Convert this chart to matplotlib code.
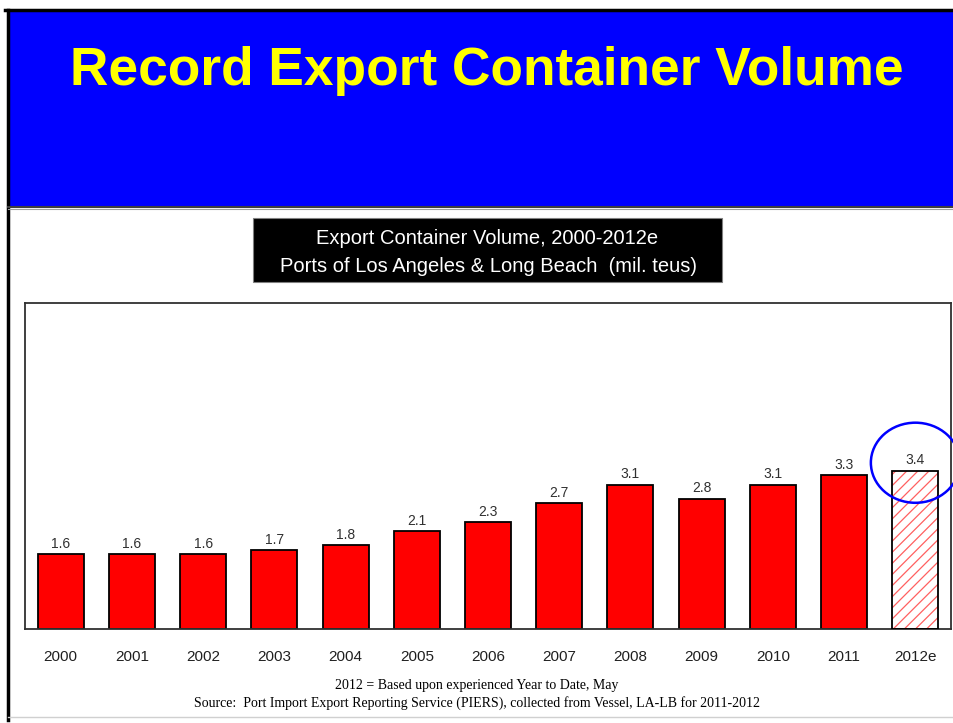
import matplotlib.pyplot as plt
import matplotlib.patches as mpatches

# export container volume, Ports of LA & Long Beach (mil. teus)
years = ['2000', '2001', '2002', '2003', '2004', '2005', '2006',
         '2007', '2008', '2009', '2010', '2011', '2012e']
volumes = [1.6, 1.6, 1.6, 1.7, 1.8, 2.1, 2.3, 2.7, 3.1, 2.8, 3.1, 3.3, 3.4]
estimated = [False] * 12 + [True]

title = 'Record Export Container Volume'
subtitle = ['Export Container Volume, 2000-2012e',
            'Ports of Los Angeles & Long Beach  (mil. teus)']
footnotes = ['2012 = Based upon experienced Year to Date, May',
             'Source:  Port Import Export Reporting Service (PIERS), '
             'collected from Vessel, LA-LB for 2011-2012']

W, H = 954, 723
plt.rcParams['hatch.linewidth'] = 0.9


def fx(x):
    return x / W


def fy(y):
    # pixel rows counted from the top
    return 1 - y / H


fig = plt.figure(figsize=(W / 100, H / 100), dpi=100)
fig.patch.set_facecolor('white')

# slide header
fig.patches.append(mpatches.Rectangle((fx(8), fy(206)), fx(W - 8), fy(11) - fy(206),
                                      transform=fig.transFigure, facecolor='#0000FF',
                                      edgecolor='none', zorder=0))
fig.add_artist(plt.Line2D([fx(5), 1], [fy(10), fy(10)], color='black', lw=2.5))
fig.add_artist(plt.Line2D([fx(8), fx(8)], [fy(10), fy(720)], color='black', lw=2.5))
fig.add_artist(plt.Line2D([fx(8), 1], [fy(206.5), fy(206.5)], color='#404040', lw=1.5))
fig.add_artist(plt.Line2D([fx(8), 1], [fy(209), fy(209)], color='#a0a0a0', lw=0.8))
fig.add_artist(plt.Line2D([fx(8), 1], [fy(717), fy(717)], color='#d0d0d0', lw=1))

fig.text(fx(487), fy(71), title, color='#FFFF00', fontsize=38.3, fontweight='bold',
         family=['Liberation Sans', 'DejaVu Sans'], ha='center', va='center')

# chart caption box
fig.patches.append(mpatches.Rectangle((fx(253), fy(282)), fx(722 - 253), fy(218) - fy(282),
                                      transform=fig.transFigure, facecolor='black',
                                      edgecolor='#808080', lw=0.8, zorder=1))
fig.text(fx(487), fy(239), subtitle[0], color='white', fontsize=14.5,
         family=['Liberation Sans', 'DejaVu Sans'], ha='center', va='center', zorder=2)
fig.text(fx(488), fy(266), subtitle[1], color='white', fontsize=14.5,
         family=['Liberation Sans', 'DejaVu Sans'], ha='center', va='center', zorder=2)

ax = fig.add_axes([fx(25), fy(629), fx(951 - 25), fy(303) - fy(629)])
x = list(range(len(years)))
for i, (v, est) in enumerate(zip(volumes, estimated)):
    if est:
        ax.bar(i, v, width=0.645, facecolor='white', edgecolor='#FF6060',
               hatch='///', lw=0, zorder=2)
        ax.bar(i, v, width=0.645, facecolor='none', edgecolor='black', lw=1.3, zorder=3)
    else:
        ax.bar(i, v, width=0.645, facecolor='#FF0000', edgecolor='black', lw=1.3, zorder=2)
    ax.text(i, v + 0.07, f'{v:.1f}', ha='center', va='bottom', fontsize=10,
            color='#303030', family=['Liberation Sans', 'DejaVu Sans'])

ax.set_xlim(-0.5, 12.5)
ax.set_ylim(0, 7.0)
ax.set_yticks([])
ax.set_xticks(x)
ax.set_xticklabels(years, family=['Liberation Sans Narrow', 'Liberation Sans', 'DejaVu Sans'],
                   fontsize=11, color='#202020')
ax.tick_params(axis='x', length=0, pad=15)
for side in ax.spines.values():
    side.set_color('#303030')
    side.set_linewidth(1.3)

# highlight the 2012 estimate
ax.add_patch(mpatches.Ellipse((12, 3.57), 1.25, 1.72, facecolor='none',
                              edgecolor='#0000FF', lw=1.8, clip_on=False, zorder=4))

fig.text(fx(477), fy(686), footnotes[0], fontsize=10, ha='center', va='center',
         family=['Liberation Serif', 'DejaVu Serif'], color='black')
fig.text(fx(477), fy(703), footnotes[1], fontsize=10, ha='center', va='center',
         family=['Liberation Serif', 'DejaVu Serif'], color='black')

fig.savefig('out.png', dpi=100)
